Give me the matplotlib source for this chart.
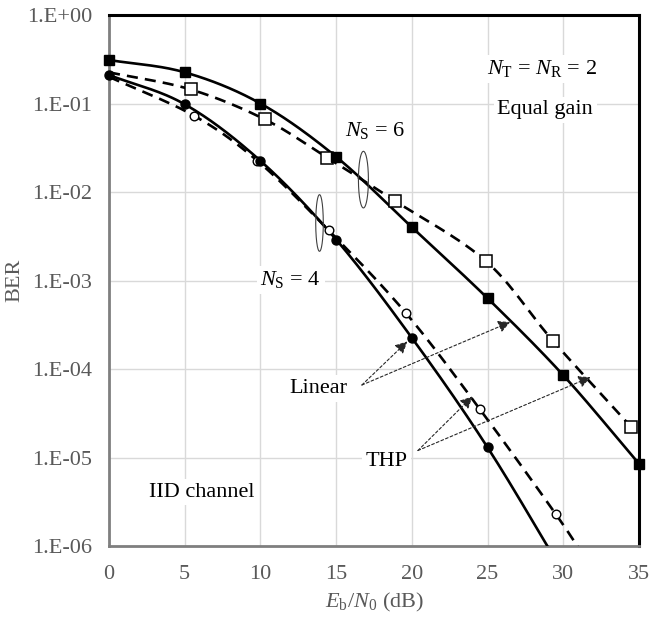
"""
BER vs Eb/N0 for linear precoding and THP, NT = NR = 2, equal gain.
"""

import numpy as np
import matplotlib
matplotlib.use("Agg")
import matplotlib.pyplot as plt
from matplotlib.ticker import FixedLocator, FuncFormatter

plt.rcParams["font.family"] = "Liberation Serif"
plt.rcParams["mathtext.fontset"] = "custom"
plt.rcParams["mathtext.rm"] = "Liberation Serif"
plt.rcParams["mathtext.it"] = "Liberation Serif:italic"

# ── Data ──────────────────────────────────────────────────────────────────────

# analytical curves (drawn as smooth lines)
CURVE_X_LIN6 = [0, 5, 10, 15, 20, 25, 30, 35]
CURVE_Y_LIN6 = [0.31, 0.225, 0.1, 0.025, 0.004, 6.3e-4, 8.5e-5, 8.5e-6]

CURVE_X_THP6 = [0, 5.4, 10.3, 14.4, 18.9, 24.9, 29.3, 34.5]
CURVE_Y_THP6 = [0.225, 0.144, 0.066, 0.0245, 0.0079, 1.65e-3, 2.1e-4, 2.2e-5]

CURVE_X_LIN4 = [0, 5, 10, 15, 20, 25, 30]
CURVE_Y_LIN4 = [0.21, 0.098, 0.0225, 0.0029, 2.25e-4, 1.3e-5, 5e-7]

CURVE_X_THP4 = [0, 5.6, 9.8, 14.5, 19.6, 24.5, 29.5, 31.5]
CURVE_Y_THP4 = [0.2, 0.073, 0.0225, 0.0037, 4.3e-4, 3.5e-5, 2.3e-6, 7e-7]

# simulated points (markers)
SIM_X_LIN6 = [0, 5, 10, 15, 20, 25, 30, 35]
SIM_Y_LIN6 = [0.31, 0.225, 0.1, 0.025, 0.004, 6.3e-4, 8.5e-5, 8.5e-6]

SIM_X_THP6 = [5.4, 10.3, 14.4, 18.9, 24.9, 29.3, 34.5]
SIM_Y_THP6 = [0.144, 0.066, 0.0245, 0.0079, 1.65e-3, 2.1e-4, 2.2e-5]

SIM_X_LIN4 = [0, 5, 10, 15, 20, 25]
SIM_Y_LIN4 = [0.21, 0.098, 0.0225, 0.0029, 2.25e-4, 1.3e-5]

SIM_X_THP4 = [5.6, 9.8, 14.5, 19.6, 24.5, 29.5]
SIM_Y_THP4 = [0.073, 0.0225, 0.0037, 4.3e-4, 3.5e-5, 2.3e-6]

X_TICKS = [0, 5, 10, 15, 20, 25, 30, 35]
Y_TICKS = [1e0, 1e-1, 1e-2, 1e-3, 1e-4, 1e-5, 1e-6]


def smooth(xs, ys, n=30):
    """Catmull-Rom spline through the points, in (x, log10 y) space."""
    p = np.column_stack([xs, np.log10(ys)])
    p = np.vstack([2 * p[0] - p[1], p, 2 * p[-1] - p[-2]])
    out = []
    t = np.linspace(0, 1, n)[:, None]
    for i in range(1, len(p) - 2):
        p0, p1, p2, p3 = p[i - 1], p[i], p[i + 1], p[i + 2]
        seg = 0.5 * ((2 * p1) + (-p0 + p2) * t
                     + (2 * p0 - 5 * p1 + 4 * p2 - p3) * t ** 2
                     + (-p0 + 3 * p1 - 3 * p2 + p3) * t ** 3)
        out.append(seg)
    s = np.vstack(out)
    return s[:, 0], 10 ** s[:, 1]


# ── Plot ──────────────────────────────────────────────────────────────────────

fig = plt.figure(figsize=(6.49, 6.17), dpi=100)
ax = fig.add_axes([0.168, 0.115, 0.8166, 0.8607])

ax.set_yscale("log")
ax.set_xlim(0, 35)
ax.set_ylim(1e-6, 1)

LW = 1.9
DASH = (0, (4.2, 2.7))

for cx, cy, ls in [(CURVE_X_LIN6, CURVE_Y_LIN6, "-"),
                   (CURVE_X_THP6, CURVE_Y_THP6, DASH),
                   (CURVE_X_LIN4, CURVE_Y_LIN4, "-"),
                   (CURVE_X_THP4, CURVE_Y_THP4, DASH)]:
    sx, sy = smooth(cx, cy)
    ax.plot(sx, sy, color="black", lw=LW, linestyle=ls, zorder=3,
            clip_on=True, solid_capstyle="butt")

ax.plot(SIM_X_THP6, SIM_Y_THP6, linestyle="none", marker="s", ms=8.5,
        mfc="white", mec="black", mew=1.1, zorder=4)
ax.plot(SIM_X_LIN6, SIM_Y_LIN6, linestyle="none", marker="s", ms=7.2,
        mfc="black", mec="black", zorder=5, clip_on=False)
ax.plot(SIM_X_THP4, SIM_Y_THP4, linestyle="none", marker="o", ms=6.2,
        mfc="white", mec="black", mew=1.0, zorder=4)
ax.plot(SIM_X_LIN4, SIM_Y_LIN4, linestyle="none", marker="o", ms=6.5,
        mfc="black", mec="black", zorder=5, clip_on=False)

# grid and frame
ax.set_axisbelow(True)
ax.grid(True, which="major", color="#d9d9d9", lw=1.0)
ax.grid(False, which="minor")
ax.xaxis.set_major_locator(FixedLocator(X_TICKS))
ax.yaxis.set_major_locator(FixedLocator(Y_TICKS))
ax.yaxis.set_minor_locator(FixedLocator([]))
ax.yaxis.set_major_formatter(
    FuncFormatter(lambda v, _: f"1.E{int(round(np.log10(v))):+03d}"))
ax.tick_params(axis="both", length=0, labelsize=16, labelcolor="#595959")
ax.tick_params(axis="x", pad=14)
ax.tick_params(axis="y", pad=12)

for side in ["top", "right"]:
    ax.spines[side].set_color("black")
    ax.spines[side].set_linewidth(2.2)
for side in ["left", "bottom"]:
    ax.spines[side].set_color("#7f7f7f")
    ax.spines[side].set_linewidth(2.0)

ax.set_ylabel("BER", fontsize=16, color="#595959", labelpad=2)
ax.set_xlabel(r"$E_\mathrm{b}/N_0$ (dB)", fontsize=16, color="#595959",
              labelpad=5)

# ── Annotations ───────────────────────────────────────────────────────────────

box = dict(fc="white", ec="none", pad=2.5)
txt = dict(fontsize=16, ha="center", va="center", bbox=box, zorder=6)

ax.text(17.6, 10 ** -1.30, r"$N_\mathrm{S}$ = 6", **txt)
ax.text(12.0, 10 ** -2.99, r"$N_\mathrm{S}$ = 4", **txt)
ax.text(28.6, 10 ** -0.61, r"$N_\mathrm{T}$ = $N_\mathrm{R}$ = 2", **txt)
ax.text(28.8, 10 ** -1.07, "Equal gain", **txt)
ax.text(6.1, 10 ** -5.39, "IID channel", **txt)
ax.text(13.8, 10 ** -4.22, "Linear", **txt)
ax.text(18.3, 10 ** -5.04, "THP", **txt)

# ellipses grouping the curves
t = np.linspace(0, 2 * np.pi, 200)
for cx, cly, a, b in [(16.8, -1.86, 0.33, 0.32), (13.9, -2.35, 0.25, 0.32)]:
    ax.plot(cx + a * np.cos(t), 10 ** (cly + b * np.sin(t)),
            color="#404040", lw=0.8, zorder=6)

arrow = dict(arrowstyle="-|>", color="#262626", lw=0.8,
             linestyle=(0, (2.5, 2)), mutation_scale=18, shrinkA=0, shrinkB=0)
for tail, head in [((16.7, 6.6e-5), (19.7, 2.05e-4)),
                   ((16.7, 6.6e-5), (26.5, 3.4e-4)),
                   ((20.4, 1.2e-5), (24.0, 4.9e-5)),
                   ((20.4, 1.2e-5), (31.8, 8.1e-5))]:
    ax.annotate("", xy=head, xytext=tail, arrowprops=arrow, zorder=6)

fig.savefig("out.png", dpi=100)
